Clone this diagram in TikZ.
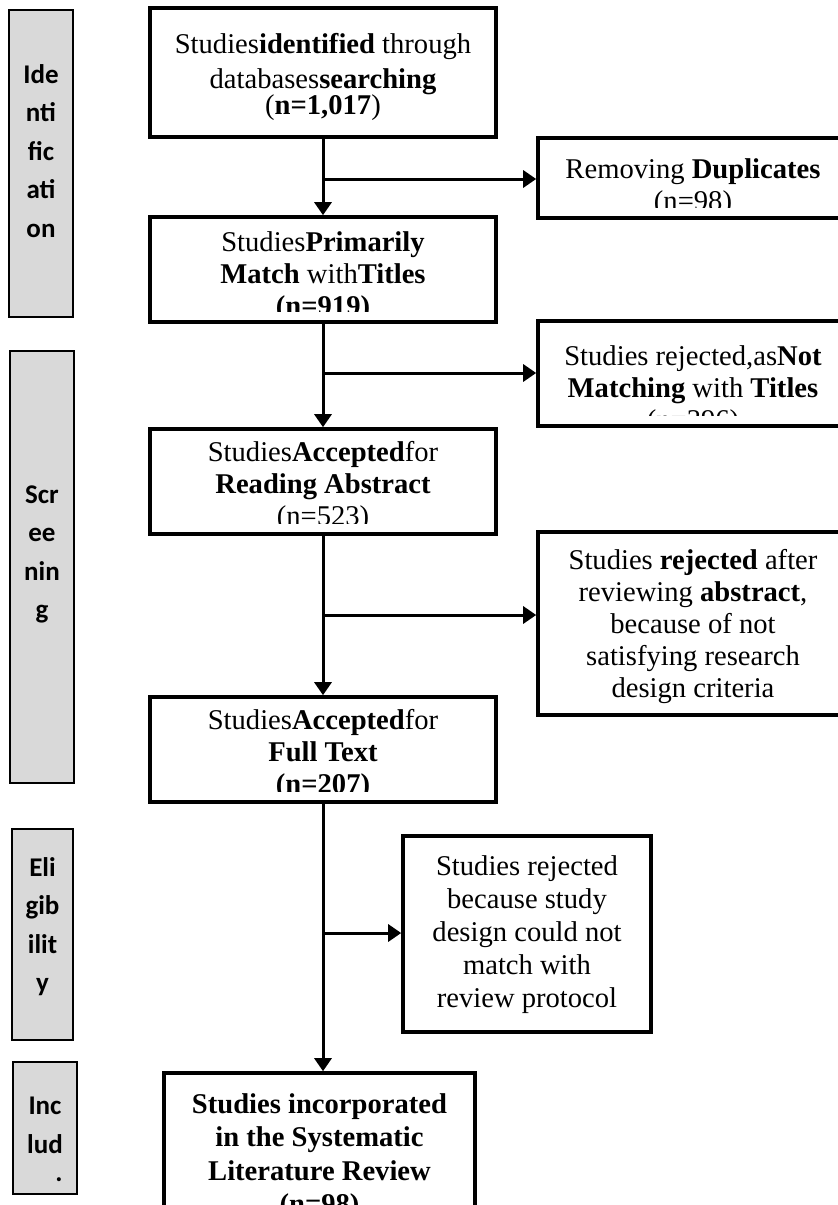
\documentclass[tikz,border=0pt]{standalone}
\usepackage{fontspec}
\setmainfont{Liberation Serif}
\newfontfamily\phasefont{Carlito}
\usetikzlibrary{arrows.meta, positioning}

\begin{document}
\begin{tikzpicture}[
    x=0.5pt, y=-0.5pt,
    every node/.style={font=\fontsize{14.3}{16}\selectfont},
    frame/.style={draw, line width=1.8pt, inner sep=0pt},
    phase/.style={draw, line width=1.2pt, fill=black!15, inner sep=0pt},
    phasetxt/.style={anchor=north, inner sep=0pt, align=center,
        font=\phasefont\bfseries\fontsize{13.5}{19.25}\selectfont},
    txt/.style={inner sep=0pt, align=center, execute at begin node=\strut},
    arrow/.style={-{Triangle[length=6.5pt, width=8.5pt]}, line width=1.5pt}
]
\useasboundingbox (0,0) rectangle (837,1205);

% Phases
\node[phase, minimum width=32pt, minimum height=153.5pt] (ident) at (41,163.5) {};
\node[phase, minimum width=32pt, minimum height=216pt] (screen) at (42,567) {};
\node[phase, minimum width=30.5pt, minimum height=105.5pt] (elig) at (42.5,934.5) {};
\node[phase, minimum width=32pt, minimum height=66pt] (incl) at (45,1128) {};
\node[phasetxt] (identt) at (41,64) {Ide\\nti\\fic\\ati\\on};
\node[phasetxt] (screent) at (42,485) {Scr\\ee\\nin\\g};
\node[phasetxt] (eligt) at (42.5,857) {Eli\\gib\\ilit\\y};
\node[phasetxt] (inclt) at (45,1097) {Inc\\lud\\[-5pt]\phantom{ed}.};

% Cadres
\node[frame, minimum width=173pt, minimum height=64.5pt] (b1) at (323,72.5) {};
\node[frame, minimum width=173pt, minimum height=52.5pt] (b2) at (323,269.5) {};
\node[frame, minimum width=173pt, minimum height=52.5pt] (b3) at (323,481.5) {};
\node[frame, minimum width=173pt, minimum height=52.5pt] (b4) at (323,749.5) {};
\node[frame, minimum width=155.5pt, minimum height=93.5pt] (b5) at (319.5,1166.5) {};
\node[frame, minimum width=155pt, minimum height=40pt] (s1) at (693,178) {};
\node[frame, minimum width=155pt, minimum height=52.5pt] (s2) at (693,373.5) {};
\node[frame, minimum width=155pt, minimum height=91.5pt] (s3) at (693,623.5) {};
\node[frame, minimum width=124pt, minimum height=98pt] (s4) at (527,934) {};

% Textes
\node[txt, below=13.3pt of b1.north] (t1) {Studies\textbf{identified} through\\[1.5pt]databases\textbf{searching}\\[-3pt](\textbf{n=1,017})};
\begin{scope}
  \clip (b2.north west) rectangle ([yshift=6pt]b2.south east);
  \node[txt, below=7.8pt of b2.north] (t2) {Studies\textbf{Primarily}\\\textbf{Match} with\textbf{Titles}\\\textbf{(n=919)}};
\end{scope}
\begin{scope}
  \clip (b3.north west) rectangle ([yshift=6pt]b3.south east);
  \node[txt, below=6.8pt of b3.north] (t3) {Studies\textbf{Accepted}for\\\textbf{Reading Abstract}\\(n=523)};
\end{scope}
\begin{scope}
  \clip (b4.north west) rectangle ([yshift=6pt]b4.south east);
  \node[txt, below=6.8pt of b4.north] (t4) {Studies\textbf{Accepted}for\\\textbf{Full Text}\\\textbf{(n=207)}};
\end{scope}
\node[txt, below=10.8pt of b5.north, font=\bfseries\fontsize{14.3}{16.8}\selectfont] (t5) {Studies incorporated\\in the Systematic\\Literature Review\\(n=98)};
\begin{scope}
  \clip (s1.north west) rectangle ([yshift=6pt]s1.south east);
  \node[txt, below=10.8pt of s1.north] (u1) {Removing \textbf{Duplicates}\\(n=98)};
\end{scope}
\begin{scope}
  \clip (s2.north west) rectangle ([yshift=6pt]s2.south east);
  \node[txt, below=12.8pt of s2.north] (u2) {Studies rejected,as\textbf{Not}\\\textbf{Matching} with \textbf{Titles}\\(n=396)};
\end{scope}
\node[txt, below=9.3pt of s3.north] (u3) {Studies \textbf{rejected} after\\reviewing \textbf{abstract},\\because of not\\satisfying research\\design criteria};
\node[txt, below=10.3pt of s4.north, font=\fontsize{14.3}{16.5}\selectfont] (u4) {Studies rejected\\because study\\design could not\\match with\\review protocol};

% Fleches
\coordinate (j1) at (323,179);
\coordinate (j2) at (323,373);
\coordinate (j3) at (323,615);
\coordinate (j4) at (323,933);
\draw[arrow] (b1) -- (b2);
\draw[arrow] (b2) -- (b3);
\draw[arrow] (b3) -- (b4);
\draw[arrow] (b4.south) -- (b4.south |- b5.north);
\draw[arrow] (j1) -- (j1 -| s1.west);
\draw[arrow] (j2) -- (j2 -| s2.west);
\draw[arrow] (j3) -- (j3 -| s3.west);
\draw[arrow] (j4) -- (j4 -| s4.west);

\end{tikzpicture}
\end{document}
